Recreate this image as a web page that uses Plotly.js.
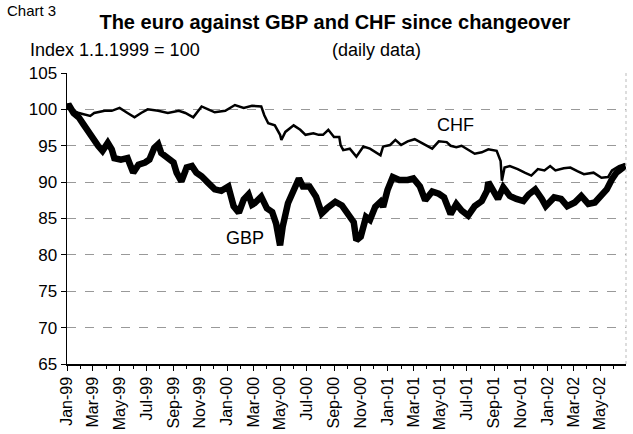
<!DOCTYPE html>
<html>
<head>
<meta charset="utf-8">
<script src="https://cdn.plot.ly/plotly-3.0.1.min.js"></script>
<style>html,body{margin:0;padding:0;background:#fff;}#chart{width:633px;height:434px;}</style>
</head>
<body>
<div id="chart"></div>
<script>
const gbpDates = ["1999-01-01","1999-01-04","1999-01-16","1999-01-28","1999-02-08","1999-02-19","1999-03-01","1999-03-13","1999-03-23","1999-04-04","1999-04-13","1999-04-19","1999-05-04","1999-05-19","1999-06-01","1999-06-13","1999-06-28","1999-07-08","1999-07-19","1999-07-28","1999-08-04","1999-08-19","1999-09-01","1999-09-08","1999-09-19","1999-10-01","1999-10-13","1999-10-23","1999-11-04","1999-11-19","1999-12-04","1999-12-19","2000-01-04","2000-01-16","2000-01-28","2000-02-08","2000-02-19","2000-02-27","2000-03-04","2000-03-19","2000-04-01","2000-04-13","2000-04-22","2000-05-01","2000-05-07","2000-05-19","2000-06-01","2000-06-13","2000-06-22","2000-07-07","2000-07-22","2000-08-04","2000-08-16","2000-09-04","2000-09-19","2000-10-04","2000-10-16","2000-10-22","2000-11-01","2000-11-13","2000-11-22","2000-12-04","2000-12-16","2000-12-22","2001-01-01","2001-01-13","2001-01-28","2001-02-16","2001-03-01","2001-03-16","2001-03-28","2001-04-13","2001-04-28","2001-05-10","2001-05-25","2001-06-07","2001-06-19","2001-07-04","2001-07-19","2001-08-04","2001-08-16","2001-08-19","2001-09-01","2001-09-10","2001-09-22","2001-10-07","2001-10-22","2001-11-07","2001-11-19","2001-12-04","2001-12-19","2001-12-28","2002-01-16","2002-02-01","2002-02-15","2002-03-04","2002-03-19","2002-04-04","2002-04-19","2002-05-04","2002-05-16","2002-05-28","2002-06-07","2002-06-22","2002-06-28"];
const gbpValues = [100,100.7,99.5,98.9,97.9,96.8,95.9,95.0,94.3,95.4,94.5,93.3,93.1,93.3,91.3,92.4,92.7,93.1,94.7,95.2,94.0,93.3,92.7,91.3,90.1,92.0,92.2,91.3,90.8,89.9,89.0,88.8,89.4,86.7,85.8,87.6,88.3,86.9,87.1,88.0,86.4,85.9,84.3,81.3,83.9,87.1,88.9,90.5,89.4,89.4,88.0,85.7,86.4,87.3,86.8,85.7,84.5,82.0,82.5,85.2,84.8,86.6,87.3,86.6,88.9,90.7,90.3,90.3,90.5,89.4,87.5,88.7,88.4,87.9,85.6,87.0,86.1,85.4,86.7,87.4,88.8,90.0,88.6,87.7,89.3,88.1,87.7,87.4,88.3,89.0,87.7,86.7,87.9,87.7,86.7,87.2,88.1,87.0,87.2,88.1,89.0,90.4,91.3,92.0,92.2];

const chfDates = ["1999-01-01","1999-01-04","1999-01-28","1999-02-23","1999-03-04","1999-03-28","1999-04-13","1999-05-01","1999-05-19","1999-06-04","1999-06-19","1999-07-04","1999-07-28","1999-08-19","1999-09-13","1999-09-28","1999-10-16","1999-11-04","1999-11-19","1999-12-04","1999-12-28","2000-01-19","2000-02-08","2000-02-27","2000-03-19","2000-03-26","2000-04-04","2000-04-19","2000-05-01","2000-05-04","2000-05-13","2000-06-01","2000-06-16","2000-06-28","2000-07-16","2000-07-28","2000-08-07","2000-08-19","2000-09-01","2000-09-13","2000-09-16","2000-09-22","2000-10-07","2000-10-22","2000-11-07","2000-11-22","2000-12-16","2000-12-22","2001-01-07","2001-01-19","2001-02-01","2001-02-16","2001-03-04","2001-03-22","2001-04-13","2001-04-28","2001-05-16","2001-05-25","2001-06-07","2001-06-19","2001-07-04","2001-07-19","2001-08-04","2001-08-19","2001-09-07","2001-09-16","2001-09-19","2001-09-25","2001-10-07","2001-10-25","2001-11-10","2001-11-25","2001-12-10","2001-12-25","2002-01-07","2002-01-19","2002-02-07","2002-02-22","2002-03-10","2002-03-25","2002-04-16","2002-05-04","2002-05-19","2002-05-28","2002-06-13","2002-06-28"];
const chfValues = [100,100.2,99.5,99.1,99.5,99.8,99.8,100.2,99.5,98.9,99.5,100.0,99.8,99.5,99.8,99.5,98.9,100.4,100.0,99.6,99.8,100.6,100.2,100.5,100.4,99.2,98.1,97.8,96.5,95.8,96.9,97.8,97.2,96.5,96.7,96.5,96.5,97.2,96.2,96.2,95.1,94.4,94.6,93.5,94.9,94.6,93.7,94.9,95.1,95.8,95.1,95.6,95.9,95.3,94.6,95.6,95.5,95.0,94.8,95.0,94.5,93.9,94.1,94.5,94.3,92.9,90.2,92.0,92.2,91.8,91.3,90.9,91.8,91.6,92.2,91.6,91.9,92.0,91.5,91.1,91.3,90.6,90.7,91.6,92.2,92.5];

const yTicks = [65,70,75,80,85,90,95,100,105];

const font = "Liberation Sans, Arial, sans-serif";

const traces = [
  {x: chfDates, y: chfValues, type: "scatter", mode: "lines", name: "CHF",
   line: {color: "#000", width: 2.5}},
  {x: gbpDates, y: gbpValues, type: "scatter", mode: "lines", name: "GBP",
   line: {color: "#000", width: 6.5}}
];

const layout = {
  width: 633, height: 434,
  margin: {l: 67, r: 7, t: 73, b: 70},
  paper_bgcolor: "#fff", plot_bgcolor: "#fff",
  showlegend: false,
  font: {family: font, color: "#000", size: 16},
  title: {text: "<b>The euro against GBP and CHF since changeover</b>",
          font: {family: font, size: 20, color: "#000"},
          x: 0.529, xanchor: "center", y: 0.95, yanchor: "middle"},
  xaxis: {
    type: "date",
    range: ["1999-01-01", "2002-06-29"],
    tickformat: "%b-%y", dtick: "M2", tick0: "1999-01-01",
    tickangle: -90, ticks: "outside", ticklen: 5, tickcolor: "#000",
    tickfont: {family: font, size: 16, color: "#000"},
    minor: {dtick: "M1", ticks: "outside", ticklen: 3, tickcolor: "#000", showgrid: false},
    showline: true, linecolor: "#000", linewidth: 1.5,
    showgrid: false, zeroline: false
  },
  yaxis: {
    range: [65, 105], tickvals: yTicks,
    ticks: "outside", ticklen: 5, tickcolor: "#000",
    tickfont: {family: font, size: 17, color: "#000"},
    showline: true, linecolor: "#000", linewidth: 1.5,
    showgrid: true, gridcolor: "#999", griddash: "dash", gridwidth: 1,
    zeroline: false
  },
  shapes: [
    {type: "line", xref: "paper", yref: "paper", x0: 1, x1: 1, y0: 0, y1: 1,
     line: {color: "#bbb", width: 1, dash: "dot"}}
  ],
  annotations: [
    {text: "Chart 3", xref: "paper", yref: "paper", x: -0.111, y: 1.215, xanchor: "left", yanchor: "middle",
     showarrow: false, font: {family: font, size: 15, color: "#000"}},
    {text: "Index 1.1.1999 = 100", xref: "paper", yref: "paper", x: -0.07, y: 1.078, xanchor: "left", yanchor: "middle",
     showarrow: false, font: {family: font, size: 18, color: "#000"}},
    {text: "(daily data)", xref: "paper", yref: "paper", x: 0.47, y: 1.078, xanchor: "left", yanchor: "middle",
     showarrow: false, font: {family: font, size: 18, color: "#000"}},
    {text: "CHF", x: "2001-06-04", y: 97.9, xref: "x", yref: "y", showarrow: false,
     font: {family: font, size: 18, color: "#000"}},
    {text: "GBP", x: "2000-02-11", y: 82.3, xref: "x", yref: "y", showarrow: false,
     font: {family: font, size: 18, color: "#000"}}
  ]
};

Plotly.newPlot("chart", traces, layout, {displayModeBar: false, staticPlot: true});
</script>
</body>
</html>
